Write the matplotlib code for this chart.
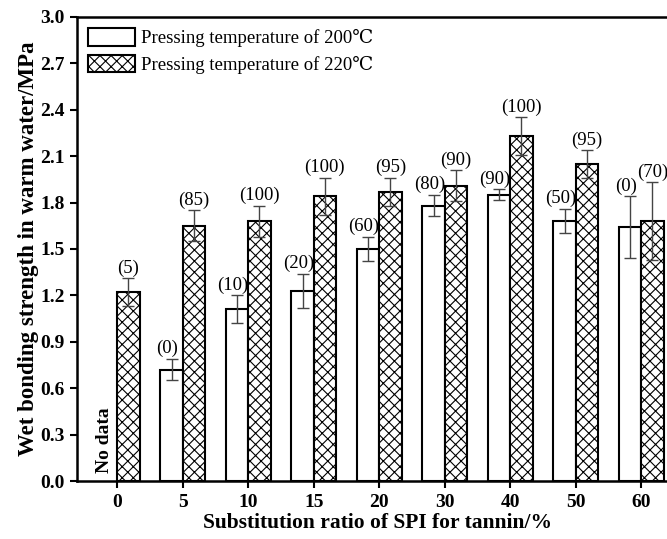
import numpy as np
import matplotlib
matplotlib.use("Agg")
import matplotlib.pyplot as plt

plt.rcParams['font.family'] = ['Liberation Serif', 'DejaVu Serif', 'DejaVu Sans']
plt.rcParams['hatch.linewidth'] = 0.8

# substitution ratio categories
ratios = ['0', '5', '10', '15', '20', '30', '40', '50', '60']

# pressing temperature 200 C (no data at 0)
mean_200 = [np.nan, 0.72, 1.11, 1.23, 1.50, 1.78, 1.85, 1.68, 1.64]
err_200 = [np.nan, 0.07, 0.09, 0.11, 0.08, 0.07, 0.035, 0.08, 0.20]
wood_200 = ['', '(0)', '(10)', '(20)', '(60)', '(80)', '(90)', '(50)', '(0)']

# pressing temperature 220 C
mean_220 = [1.22, 1.65, 1.68, 1.84, 1.87, 1.91, 2.23, 2.05, 1.68]
err_220 = [0.09, 0.10, 0.10, 0.12, 0.09, 0.10, 0.12, 0.09, 0.25]
wood_220 = ['(5)', '(85)', '(100)', '(100)', '(95)', '(90)', '(100)', '(95)', '(70)']

x = np.arange(len(ratios))
w = 0.34

fig = plt.figure(figsize=(6.67, 5.39), dpi=100)
ax = fig.add_axes([0.1154, 0.1076, 0.90, 0.861])

ax.bar(x - w / 2, mean_200, w, color='white', edgecolor='black', linewidth=1.5,
       label='Pressing temperature of 200\u2103', zorder=2)
ax.bar(x + w / 2, mean_220, w, color='white', edgecolor='black', linewidth=1.5,
       hatch='xxx', label='Pressing temperature of 220\u2103', zorder=2)

ax.errorbar(x - w / 2, mean_200, yerr=err_200, fmt='none', ecolor='#444444',
            elinewidth=1, capsize=4, capthick=1, zorder=3)
ax.errorbar(x + w / 2, mean_220, yerr=err_220, fmt='none', ecolor='#444444',
            elinewidth=1, capsize=4, capthick=1, zorder=3)

# wood failure labels above error bars
for i in range(len(ratios)):
    if wood_200[i]:
        ax.annotate(wood_200[i], (x[i] - w / 2, mean_200[i] + err_200[i]),
                    xytext=(-3, 1), textcoords='offset points',
                    ha='center', va='bottom', fontsize=13.5)
    ax.annotate(wood_220[i], (x[i] + w / 2, mean_220[i] + err_220[i]),
                xytext=(0, 1), textcoords='offset points',
                ha='center', va='bottom', fontsize=13.5)

ax.text(x[0] - w / 2 - 0.03, 0.05, 'No data', rotation=90, ha='center', va='bottom',
        fontsize=14, fontweight='bold')

ax.set_xlim(-0.615, 8.55)
ax.set_ylim(0, 3.0)
ax.set_xticks(x)
ax.set_xticklabels(ratios)
ax.set_yticks(np.arange(0, 3.01, 0.3))
ax.set_yticklabels([f'{v:.1f}' for v in np.arange(0, 3.01, 0.3)])
for lab in ax.get_xticklabels() + ax.get_yticklabels():
    lab.set_fontweight('bold')
    lab.set_fontsize(14)
ax.tick_params(direction='out', length=5, width=1.5, pad=4)

for s in ['left', 'bottom', 'top']:
    ax.spines[s].set_linewidth(1.8)
ax.spines['right'].set_visible(False)

ax.set_xlabel('Substitution ratio of SPI for tannin/%', fontsize=15.5,
              fontweight='bold', labelpad=2)
ax.set_ylabel('Wet bonding strength in warm water/MPa', fontsize=16.5,
              fontweight='bold', labelpad=1)

ax.legend(loc='upper left', frameon=False, fontsize=13.5, handlelength=2.5,
          handleheight=1.05, handletextpad=0.3, borderaxespad=0.3,
          labelspacing=0.4, borderpad=0.3)

fig.savefig('out.png', dpi=100)
